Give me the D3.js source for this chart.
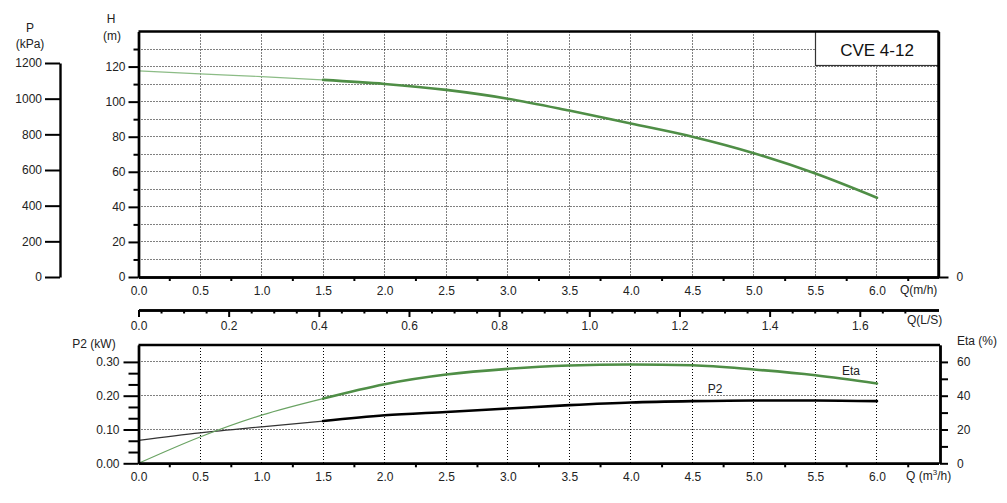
<!DOCTYPE html>
<html><head><meta charset="utf-8">
<script src="https://cdn.jsdelivr.net/npm/d3@7"></script>
<style>
html,body{margin:0;padding:0;background:#fff;}
svg{display:block;font-family:"Liberation Sans",Arial,sans-serif;}
.axis text{font-size:12px;fill:#222;}
.axis path,.axis line{stroke:#000;}
</style></head>
<body>
<script>
// ---- data ----
const flowQ = [0, 0.5, 1.0, 1.5, 2.0, 2.5, 3.0, 3.5, 4.0, 4.5, 5.0, 5.5, 6.0];
const headH = [117.5, 115.8, 114.3, 112.4, 110.1, 106.7, 101.7, 94.9, 87.5, 80.0, 70.6, 59.0, 45.2];
const effEta = [0, 15.6, 28.5, 38.3, 46.8, 52.5, 55.9, 57.9, 58.5, 58.0, 55.5, 52.1, 47.2];
const powerP2 = [0.068, 0.090, 0.108, 0.125, 0.142, 0.152, 0.162, 0.172, 0.180, 0.184, 0.186, 0.186, 0.184];
const qTicks = [0, 0.5, 1.0, 1.5, 2.0, 2.5, 3.0, 3.5, 4.0, 4.5, 5.0, 5.5, 6.0];
const qLsTicks = [0, 0.2, 0.4, 0.6, 0.8, 1.0, 1.2, 1.4, 1.6];
const hTicks = [0, 20, 40, 60, 80, 100, 120];
const pTicks = [0, 200, 400, 600, 800, 1000, 1200];
const p2Ticks = [0, 0.1, 0.2, 0.3];
const etaTicks = [0, 20, 40, 60];
const modelName = "CVE 4-12";

const W = 1007, H = 503;
const svg = d3.select("body").append("svg").attr("width", W).attr("height", H);

const X0 = 138.5, X1 = 938.5;
const x = d3.scaleLinear().domain([0, 6.5]).range([X0, X1]);
const xLs = d3.scaleLinear().domain([0, 1.7746]).range([X0, X1]);
const yH = d3.scaleLinear().domain([0, 140]).range([277, 31.5]);
const yP = d3.scaleLinear().domain([0, 1200]).range([277, 63]);
const yP2 = d3.scaleLinear().domain([0, 0.35]).range([463.3, 345]);
const yEta = d3.scaleLinear().domain([0, 70]).range([463.3, 345]);
const crisp = v => Math.round(v - 0.5) + 0.5;

const green = "#4f8e46", greenLight = "#8cbc86";
const gridDash = "1,2";

// ---------- grids ----------
const gTop = svg.append("g");
const vGrid = qTicks.filter(d => d > 0);
gTop.selectAll("line.v").data(vGrid).join("line")
  .attr("x1", d => crisp(x(d))).attr("x2", d => crisp(x(d))).attr("y1", yH(140)).attr("y2", yH(0))
  .attr("stroke", "#000").attr("stroke-width", 1).attr("stroke-dasharray", gridDash);
gTop.selectAll("line.h").data(d3.range(10, 140, 10)).join("line")
  .attr("x1", X0).attr("x2", X1).attr("y1", d => crisp(yH(d))).attr("y2", d => crisp(yH(d)))
  .attr("stroke", "#000").attr("stroke-width", 1).attr("stroke-dasharray", gridDash);

const gBot = svg.append("g");
gBot.selectAll("line.v").data(vGrid).join("line")
  .attr("x1", d => crisp(x(d))).attr("x2", d => crisp(x(d))).attr("y1", yP2(0.35)).attr("y2", yP2(0))
  .attr("stroke", "#000").attr("stroke-width", 1).attr("stroke-dasharray", gridDash);
gBot.selectAll("line.h").data(p2Ticks.filter(d => d > 0)).join("line")
  .attr("x1", X0).attr("x2", X1).attr("y1", d => crisp(yP2(d))).attr("y2", d => crisp(yP2(d)))
  .attr("stroke", "#000").attr("stroke-width", 1).attr("stroke-dasharray", gridDash);

// ---------- title box ----------
svg.append("rect").attr("x", 815.5).attr("y", yH(140)).attr("width", X1 - 815.5).attr("height", 34)
  .attr("fill", "#fff").attr("stroke", "#333").attr("stroke-width", 1.2);
svg.append("text").attr("x", 877).attr("y", 56).attr("text-anchor", "middle")
  .attr("font-size", 17).attr("fill", "#111").text(modelName);

// ---------- curves ----------
function seg(vals, lo, hi) {
  return flowQ.map((q, i) => [q, vals[i]]).filter(d => d[0] >= lo && d[0] <= hi);
}
function drawCurve(vals, ys, colThin, colThick) {
  const line = d3.line().x(d => x(d[0])).y(d => ys(d[1])).curve(d3.curveMonotoneX);
  svg.append("path").attr("d", line(seg(vals, 0, 1.5))).attr("fill", "none")
    .attr("stroke", colThin).attr("stroke-width", 1.2);
  svg.append("path").attr("d", line(seg(vals, 1.5, 6.0))).attr("fill", "none")
    .attr("stroke", colThick).attr("stroke-width", 2.6).attr("stroke-linecap", "round");
}
drawCurve(headH, yH, greenLight, green);
drawCurve(powerP2, yP2, "#333", "#000");
drawCurve(effEta, yEta, "#6aa363", green);

svg.append("text").attr("x", 851).attr("y", 375).attr("text-anchor", "middle")
  .attr("font-size", 12).attr("fill", "#222").text("Eta");
svg.append("text").attr("x", 715).attr("y", 393).attr("text-anchor", "middle")
  .attr("font-size", 12).attr("fill", "#222").text("P2");

// ---------- axes helpers ----------
function styleAxis(g, w) {
  g.attr("class", "axis");
  g.select(".domain").attr("stroke-width", w || 2.4);
  g.selectAll(".tick line").attr("stroke-width", 2);
  return g;
}

// top chart frame
svg.append("line").attr("x1", X0).attr("x2", X1).attr("y1", yH(140)).attr("y2", yH(140))
  .attr("stroke", "#000").attr("stroke-width", 2.4);
svg.append("line").attr("x1", X1).attr("x2", X1).attr("y1", yH(140)).attr("y2", yH(0))
  .attr("stroke", "#000").attr("stroke-width", 2.4);

// H axis
styleAxis(svg.append("g").attr("transform", `translate(${X0},0)`)
  .call(d3.axisLeft(yH).tickValues(hTicks).tickSize(10).tickSizeOuter(0).tickPadding(3).tickFormat(d3.format("d"))));
styleAxis(svg.append("g").attr("transform", `translate(${X0},0)`)
  .call(d3.axisLeft(yH).tickValues(d3.range(10, 140, 20)).tickSize(5).tickSizeOuter(0).tickFormat("")));

// P axis
styleAxis(svg.append("g").attr("transform", `translate(60,0)`)
  .call(d3.axisLeft(yP).tickValues(pTicks).tickSize(15).tickSizeOuter(0).tickPadding(3).tickFormat(d3.format("d"))));

// top x axis (m3/h)
styleAxis(svg.append("g").attr("transform", `translate(0,${yH(0)})`)
  .call(d3.axisBottom(x).tickValues(qTicks).tickSize(0).tickSizeOuter(0).tickPadding(9).tickFormat(d3.format(".1f"))));
styleAxis(svg.append("g").attr("transform", `translate(0,${yH(0)})`)
  .call(d3.axisBottom(x).tickValues(d3.range(0.25, 6.5, 0.5)).tickSize(4).tickSizeOuter(0).tickFormat("")));
// right 0 tick
styleAxis(svg.append("g").attr("transform", `translate(${X1},0)`)
  .call(d3.axisRight(yH).tickValues([0]).tickSize(10).tickSizeOuter(0).tickPadding(8).tickFormat(() => "0")), 0);

// L/S axis
const yLs = 310;
styleAxis(svg.append("g").attr("transform", `translate(0,${yLs})`)
  .call(d3.axisBottom(xLs).tickValues(qLsTicks).tickSize(7).tickSizeOuter(0).tickPadding(4).tickFormat(d3.format(".1f"))));
styleAxis(svg.append("g").attr("transform", `translate(0,${yLs})`)
  .call(d3.axisBottom(xLs).tickValues(d3.range(0.05, 1.71, 0.05).filter(v => Math.abs(v * 5 - Math.round(v * 5)) > 1e-6))
    .tickSize(3.5).tickSizeOuter(0).tickFormat("")));

// bottom chart frame
svg.append("line").attr("x1", X0).attr("x2", X1 + 1.5).attr("y1", yP2(0.35)).attr("y2", yP2(0.35))
  .attr("stroke", "#000").attr("stroke-width", 2.4);

styleAxis(svg.append("g").attr("transform", `translate(${X0},0)`)
  .call(d3.axisLeft(yP2).tickValues(p2Ticks).tickSize(15).tickSizeOuter(0).tickPadding(4).tickFormat(d3.format(".2f"))));
styleAxis(svg.append("g").attr("transform", `translate(${X0},0)`)
  .call(d3.axisLeft(yP2).tickValues([1,2,4,5,7,8].map(v => v / 30)).tickSize(10).tickSizeOuter(0).tickFormat("")));

styleAxis(svg.append("g").attr("transform", `translate(${X1 + 1.5},0)`)
  .call(d3.axisRight(yEta).tickValues(etaTicks).tickSize(8).tickSizeOuter(0).tickPadding(9).tickFormat(d3.format("d"))));
styleAxis(svg.append("g").attr("transform", `translate(${X1 + 1.5},0)`)
  .call(d3.axisRight(yEta).tickValues([10, 30, 50]).tickSize(8).tickSizeOuter(0).tickFormat("")));

styleAxis(svg.append("g").attr("transform", `translate(0,${yP2(0)})`)
  .call(d3.axisBottom(x).tickValues(qTicks).tickSize(0).tickSizeOuter(0).tickPadding(9).tickFormat(d3.format(".1f"))));
styleAxis(svg.append("g").attr("transform", `translate(0,${yP2(0)})`)
  .call(d3.axisBottom(x).tickValues(d3.range(0.25, 6.5, 0.5)).tickSize(4).tickSizeOuter(0).tickFormat("")));

// ---------- axis titles ----------
function label(t, xx, yy, anchor) {
  svg.append("text").attr("x", xx).attr("y", yy).attr("text-anchor", anchor || "middle")
    .attr("dominant-baseline", "middle").attr("font-size", 12).attr("fill", "#222").text(t);
}
label("P", 30, 29);
label("(kPa)", 30, 45);
label("H", 111, 20);
label("(m)", 112, 37);
label("Q(m/h)", 900, 291, "start");
label("Q(L/S)", 907, 321, "start");
label("P2 (kW)", 94, 345);
label("Eta (%)", 957, 342, "start");
const qb = svg.append("text").attr("x", 906).attr("y", 477).attr("dominant-baseline", "middle")
  .attr("font-size", 12).attr("fill", "#222");
qb.append("tspan").text("Q (m");
qb.append("tspan").attr("font-size", 8).attr("dy", -4).text("3");
qb.append("tspan").attr("dy", 4).text("/h)");
</script>
</body></html>
